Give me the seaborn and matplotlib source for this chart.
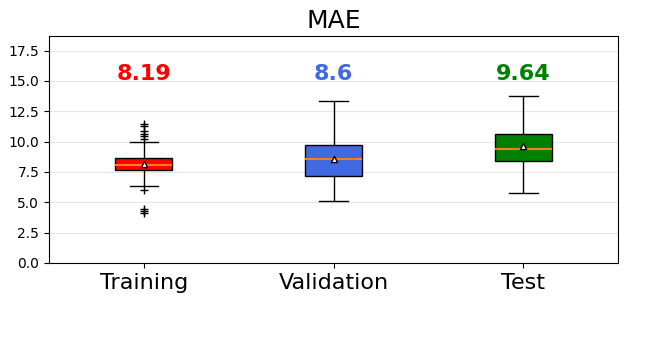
import numpy as np
import matplotlib
matplotlib.use("Agg")
import matplotlib.pyplot as plt
import pandas as pd
import seaborn as sns

# Values
sets = ["Training", "Validation", "Test"]
colors = ["red", "royalblue", "green"]
means = [8.19, 8.6, 9.64]
q1 = [7.64, 7.18, 8.36]
medians = [8.05, 8.60, 9.42]
q3 = [8.63, 9.70, 10.66]
whis_lo = [6.33, 5.09, 5.73]
whis_hi = [9.97, 13.31, 13.72]
fliers_lo = [[4.13, 4.30, 4.44, 6.0], [], []]
fliers_hi = [[10.25, 10.46, 10.66, 10.87, 11.26, 11.48], [], []]

# Build samples that reproduce the box statistics above
rows = []
for i, name in enumerate(sets):
    vals = (fliers_lo[i] + [whis_lo[i]] + [q1[i]] * 10 + [medians[i]] * 10
            + [q3[i]] * 10 + [whis_hi[i]] + fliers_hi[i])
    rows += [(name, v) for v in vals]
df = pd.DataFrame(rows, columns=["set", "mae"])

fig, ax = plt.subplots(figsize=(6.5, 3.5), dpi=100)
fig.subplots_adjust(left=0.0754, right=0.951, top=0.897, bottom=0.249)

sns.boxplot(data=df, x="set", y="mae", hue="set", palette=colors, order=sets,
            hue_order=sets, width=0.3, saturation=1, linecolor="black",
            linewidth=1, legend=False, ax=ax,
            medianprops={"color": "C1", "linewidth": 1.5},
            flierprops={"marker": "+", "markersize": 6,
                        "markeredgecolor": "black", "markerfacecolor": "black"},
            capwidths=0.15)

# mean markers
sns.scatterplot(x=sets, y=means, marker="^", s=20, color="white",
                edgecolor="black", linewidth=1, zorder=5, ax=ax)

for i, m in enumerate(means):
    ax.text(i, 15.6, f"{m}", ha="center", va="center", fontsize=16,
            fontweight="bold", color=colors[i])

ax.set_ylim(0, 18.7)
ax.set_xlim(-0.5, 2.5)
ax.set_yticks(np.arange(0, 18, 2.5))
ax.yaxis.grid(True, color="#e6e6e6", linewidth=0.8)
ax.set_axisbelow(True)
ax.set_xlabel("")
ax.set_ylabel("")
ax.tick_params(axis="x", labelsize=16)
ax.set_title("MAE", fontsize=18)

fig.savefig("out.png", dpi=100)
